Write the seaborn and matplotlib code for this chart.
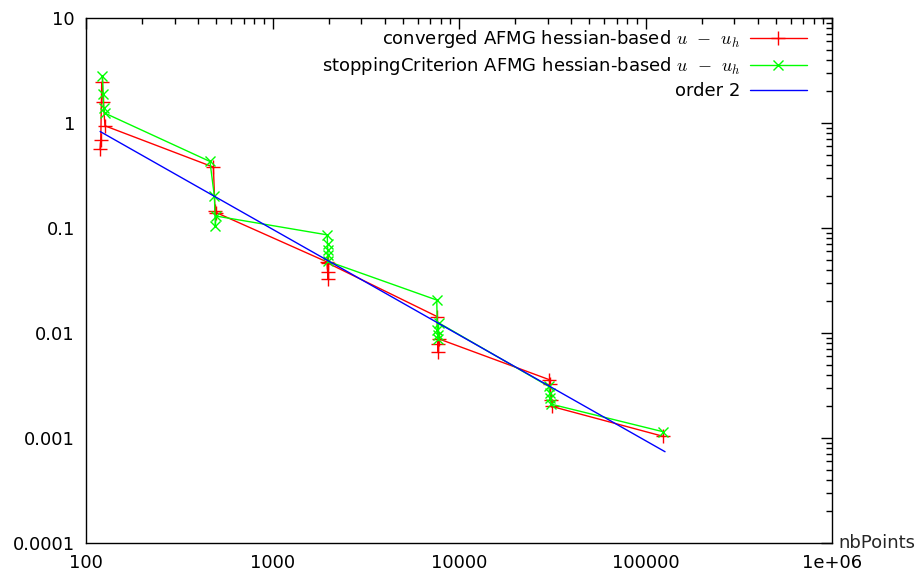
import seaborn as sns
import matplotlib.pyplot as plt
from matplotlib.ticker import FixedLocator, LogLocator, NullFormatter

# values (nbPoints vs error)
conv_points = [119, 120, 121.4, 123.8, 126.4, 482, 492, 500,
               1960, 1975, 1985, 1995, 7650, 7700, 7740, 7780,
               30400, 30800, 31100, 31400, 123600]
conv_err = [0.56, 0.69, 2.44, 1.6, 0.94, 0.38, 0.145, 0.14,
            0.0475, 0.038, 0.033, 0.046, 0.0143, 0.0078, 0.0066, 0.0088,
            0.0036, 0.0033, 0.0023, 0.0020, 0.00104]

stop_points = [122.3, 123.8, 124.2, 126.4, 462, 488, 494, 498,
               1965, 1972, 1978, 1984, 1990, 7600, 7650, 7700, 7740, 7780,
               30300, 30600, 30900, 31200, 123600]
stop_err = [2.82, 1.88, 1.38, 1.24, 0.43, 0.2, 0.105, 0.13,
            0.086, 0.071, 0.062, 0.055, 0.048, 0.0206, 0.0107, 0.0096, 0.0087, 0.0125,
            0.0031, 0.0027, 0.0024, 0.0021, 0.00115]

order_points = [119, 127300]
order_err = [0.83, 0.00074]

x_ticks = [100, 1000, 10000, 100000, 1000000]
x_labels = ['100', '1000', '10000', '100000', '1e+06']
y_ticks = [0.0001, 0.001, 0.01, 0.1, 1, 10]
y_labels = ['0.0001', '0.001', '0.01', '0.1', '1', '10']

sns.set_style('white')
plt.rcParams['font.family'] = ['DejaVu Sans']
plt.rcParams['mathtext.fontset'] = 'cm'
plt.rcParams['text.color'] = 'black'

fig = plt.figure(figsize=(9.22, 5.81), dpi=100)
ax = fig.add_axes([86 / 922, 1 - 543 / 581, (832 - 86) / 922, (543 - 18) / 581])

sns.lineplot(x=conv_points, y=conv_err, sort=False, estimator=None, ax=ax,
             color='#ff0000', lw=1, marker='+', markersize=10, mew=1,
             mec='#ff0000', label=r'converged AFMG hessian-based $u\;\,-\;\,u_h$')
sns.lineplot(x=stop_points, y=stop_err, sort=False, estimator=None, ax=ax,
             color='#00ff00', lw=1, marker='x', markersize=7, mew=1,
             mec='#00ff00', label=r'stoppingCriterion AFMG hessian-based $u\;\,-\;\,u_h$')
sns.lineplot(x=order_points, y=order_err, sort=False, estimator=None, ax=ax,
             color='#0000ff', lw=1, label='order 2')

ax.set_xscale('log')
ax.set_yscale('log')
ax.set_xlim(100, 1e6)
ax.set_ylim(1e-4, 10)

ax.xaxis.set_major_locator(FixedLocator(x_ticks))
ax.set_xticklabels(x_labels)
ax.yaxis.set_major_locator(FixedLocator(y_ticks))
ax.set_yticklabels(y_labels)
for axis in (ax.xaxis, ax.yaxis):
    axis.set_minor_locator(LogLocator(base=10, subs=range(2, 10), numticks=50))
    axis.set_minor_formatter(NullFormatter())

ax.tick_params(which='both', direction='in', top=True, right=True,
               color='black', labelcolor='black', labelsize=13, width=1)
ax.tick_params(which='major', length=8)
ax.tick_params(which='minor', length=4)
ax.tick_params(axis='x', pad=8)
ax.tick_params(axis='y', pad=8)
for s in ax.spines.values():
    s.set_color('black')
    s.set_linewidth(1)

ax.set_ylabel('')
ax.set_xlabel('nbPoints', fontsize=13, ha='left', va='center')
ax.xaxis.set_label_coords(1.008, 0)

# markerfirst=False puts the samples on the right and right-aligns the rows
ax.legend(loc='upper right', bbox_to_anchor=(0.967, 0.98), frameon=False,
          markerfirst=False, fontsize=13, borderaxespad=0, borderpad=0,
          handlelength=3.2, handletextpad=0.5, labelspacing=0.27)

fig.savefig('out.png', dpi=100)
